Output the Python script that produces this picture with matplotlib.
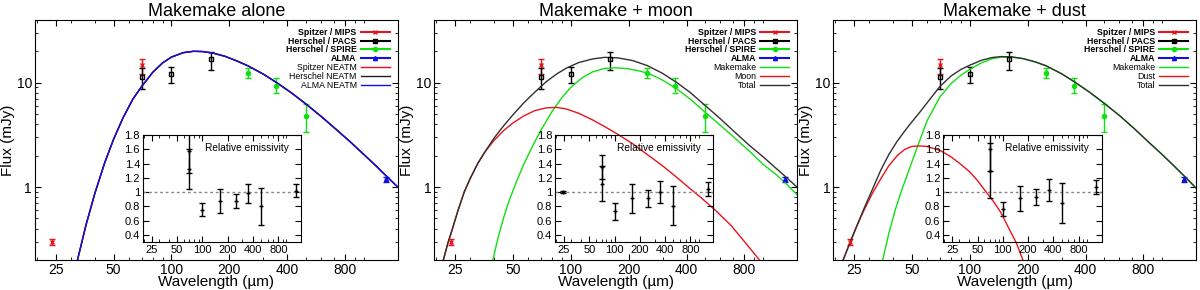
import matplotlib
matplotlib.use('Agg')
import matplotlib.pyplot as plt
from matplotlib.lines import Line2D
from matplotlib.ticker import FixedLocator, NullFormatter, FixedFormatter

plt.rcParams['font.family'] = ['Liberation Sans', 'DejaVu Sans']

# observations (wavelength in micron, flux in mJy)
mips_wl = [24, 70]
mips_f = [0.30, 14.8]
mips_lo = [0.28, 12.0]
mips_hi = [0.32, 16.9]

pacs_wl = [70, 100, 160]
pacs_f = [11.4, 12.2, 16.9]
pacs_lo = [8.8, 10.0, 13.3]
pacs_hi = [13.9, 14.2, 19.7]

spire_wl = [250, 350, 500]
spire_f = [12.5, 9.4, 4.75]
spire_lo = [11.1, 8.0, 3.4]
spire_hi = [13.9, 11.0, 6.3]

alma_wl = [1300]
alma_f = [1.19]
alma_lo = [1.12]
alma_hi = [1.26]

# model curves
neatm_wl = [32.5, 36, 40, 45, 50, 56, 63, 70, 80, 90, 100, 115, 130, 145, 165, 190, 220, 250, 300,
            350, 420, 500, 600, 720, 848, 1000, 1150, 1300, 1500]
neatm_f = [0.2, 0.435, 0.87, 1.71, 2.86, 4.6, 6.95, 9.2, 12.6, 15.5, 17.6, 19.4, 20.0, 19.9, 19.2,
           17.9, 16.1, 14.5, 12.1, 10.1, 8.0, 6.25, 4.75, 3.55, 2.72, 2.05, 1.61, 1.29, 1.0]

moon_wl = [21.8, 23, 24, 26, 28, 30, 33, 36, 40, 45, 50, 57, 65, 75, 85, 95, 110, 130, 150, 176,
           210, 250, 300, 350, 408, 480, 570, 680, 800, 957]
moon_f = [0.2, 0.29, 0.37, 0.6, 0.9, 1.2, 1.7, 2.2, 2.8, 3.5, 4.1, 4.8, 5.4, 5.75, 5.8, 5.6, 5.1,
          4.4, 3.8, 3.2, 2.6, 2.05, 1.6, 1.27, 1.0, 0.78, 0.59, 0.43, 0.3, 0.2]
mm_moon_wl = [39.4, 42, 45, 48, 52, 57, 63.6, 70, 80, 90, 100, 115, 130, 150, 170, 200, 230, 256,
              300, 357, 420, 513, 600, 720, 850, 1000, 1150, 1300, 1545]
mm_moon_f = [0.2, 0.33, 0.52, 0.75, 1.1, 1.65, 2.5, 3.5, 5.3, 7.2, 9.0, 11.2, 12.7, 13.7, 13.9,
             13.6, 12.9, 12.2, 10.6, 8.7, 6.9, 5.0, 3.9, 2.9, 2.2, 1.65, 1.35, 1.1, 0.8]
tot_moon_wl = [21.8, 23, 24, 26, 28, 30, 33, 36, 40, 45, 50, 57, 65, 75, 85, 95, 110, 130, 150,
               176, 210, 250, 300, 357, 420, 513, 600, 720, 850, 1000, 1150, 1300, 1545]
tot_moon_f = [0.2, 0.29, 0.37, 0.6, 0.9, 1.2, 1.7, 2.2, 2.95, 3.9, 4.9, 6.4, 8.1, 10.3, 12.2, 13.8,
              15.6, 16.9, 17.5, 17.3, 16.3, 14.6, 12.3, 10.0, 8.0, 5.8, 4.5, 3.3, 2.5, 1.95, 1.55,
              1.27, 0.95]

dust_wl = [22, 24, 26, 28, 31, 34.5, 38, 42, 46, 50, 55, 60, 70, 80, 90, 100, 110, 120, 135, 146,
           160, 175, 189]
dust_f = [0.2, 0.3, 0.43, 0.58, 0.85, 1.2, 1.6, 2.0, 2.3, 2.45, 2.48, 2.45, 2.25, 1.95, 1.65, 1.4,
          1.15, 0.93, 0.7, 0.56, 0.4, 0.29, 0.2]
mm_dust_wl = [35.3, 38, 41, 44, 48, 53.8, 60, 70, 80, 90, 100, 115, 130, 145, 165, 190, 220, 250,
              300, 350, 420, 500, 600, 720, 850, 1000, 1150, 1300, 1500]
mm_dust_f = [0.2, 0.36, 0.6, 0.9, 1.4, 2.5, 4.3, 7.3, 9.8, 11.8, 13.4, 15.5, 16.9, 17.6, 17.6, 17.0,
             15.8, 14.5, 12.2, 10.2, 8.1, 6.35, 4.85, 3.6, 2.7, 2.05, 1.6, 1.28, 0.98]
tot_dust_wl = [22, 24, 26, 28, 31, 34.5, 38, 42, 46, 50, 55, 60, 70, 80, 90, 100, 115, 130, 145,
               165, 190, 220, 250, 300, 350, 420, 500, 600, 720, 850, 1000, 1150, 1300, 1500]
tot_dust_f = [0.2, 0.3, 0.43, 0.6, 0.92, 1.45, 2.05, 2.75, 3.45, 4.2, 5.2, 6.4, 9.2, 11.6, 13.4,
              14.7, 16.4, 17.4, 17.8, 17.7, 17.0, 15.8, 14.5, 12.2, 10.2, 8.1, 6.35, 4.85, 3.6, 2.7,
              2.05, 1.6, 1.28, 0.98]

# relative emissivity (inset)
em_alone_wl = [70, 70, 100, 160, 250, 350, 500, 1300]
em_alone = [1.57, 1.32, 0.75, 0.87, 0.87, 0.98, 0.80, 1.02]
em_alone_err = [0.3, 0.28, 0.09, 0.17, 0.10, 0.14, 0.26, 0.09]
em_moon_wl = [24, 70, 70, 100, 160, 250, 350, 500, 1300]
em_moon = [1.0, 1.35, 1.12, 0.73, 0.91, 0.91, 1.0, 0.81, 1.04]
em_moon_err = [0.01, 0.17, 0.24, 0.12, 0.20, 0.12, 0.15, 0.27, 0.10]
em_dust_wl = [70, 70, 100, 160, 250, 350, 500, 1300]
em_dust = [1.6, 1.3, 0.76, 0.91, 0.93, 1.03, 0.85, 1.07]
em_dust_err = [0.3, 0.39, 0.10, 0.18, 0.11, 0.15, 0.28, 0.10]

xticks = [25, 50, 100, 200, 400, 800]
minor_x = [20, 30, 40, 60, 70, 80, 90, 300, 500, 600, 700, 900, 1000]
red, green, blue, dark = '#e8141c', '#10e010', '#1010e0', '#202020'

fig = plt.figure(figsize=(12, 2.9), dpi=100)
lefts = [0.029, 0.3617, 0.6942]
insets = [0.119, 0.4625, 0.786]
titles = ['Makemake alone', 'Makemake + moon', 'Makemake + dust']


def style_axis(ax, fs):
    ax.set_xscale('log')
    ax.xaxis.set_major_locator(FixedLocator(xticks))
    ax.xaxis.set_major_formatter(FixedFormatter([str(t) for t in xticks]))
    ax.xaxis.set_minor_locator(FixedLocator(minor_x))
    ax.xaxis.set_minor_formatter(NullFormatter())
    ax.tick_params(which='both', direction='in', top=True, right=True, labelsize=fs, pad=2)
    ax.tick_params(which='major', length=4)
    ax.tick_params(which='minor', length=2)
    ax.set_xlim(19.5, 1500)


def asym(f, lo, hi):
    return [[a - b for a, b in zip(f, lo)], [c - a for a, c in zip(f, hi)]]


def draw_data(ax):
    ax.errorbar(mips_wl, mips_f, yerr=asym(mips_f, mips_lo, mips_hi), fmt='x', color=red,
                ms=3, capsize=2, elinewidth=1)
    ax.errorbar(pacs_wl, pacs_f, yerr=asym(pacs_f, pacs_lo, pacs_hi), fmt='s', mfc='none',
                color='black', ms=3, capsize=2, elinewidth=1)
    ax.errorbar(spire_wl, spire_f, yerr=asym(spire_f, spire_lo, spire_hi), fmt='o',
                color=green, ms=3, capsize=2, elinewidth=1)
    ax.errorbar(alma_wl, alma_f, yerr=asym(alma_f, alma_lo, alma_hi), fmt='^', color=blue,
                ms=3, capsize=2, elinewidth=1)
    # legend samples in the gnuplot style: marker on a horizontal bar
    return [Line2D([], [], color=red, marker='x', ms=3, lw=1.5, label='Spitzer / MIPS'),
            Line2D([], [], color='black', marker='s', ms=3, lw=1.5, label='Herschel / PACS'),
            Line2D([], [], color=green, marker='o', ms=3, lw=1.5, label='Herschel / SPIRE'),
            Line2D([], [], color=blue, marker='^', ms=3, lw=1.5, label='ALMA')]


def draw_inset(pos, wl, em, err):
    ax = fig.add_axes([pos, 0.1655, 0.1320, 0.369])
    ax.patch.set_alpha(0)
    style_axis(ax, 8)
    ax.set_ylim(0.3, 1.8)
    ax.set_yticks([0.4, 0.6, 0.8, 1.0, 1.2, 1.4, 1.6, 1.8])
    ax.set_yticklabels(['0.4', '0.6', '0.8', '1', '1.2', '1.4', '1.6', '1.8'])
    ax.axhline(1.0, color='#888888', ls=(0, (2, 2)), lw=1)
    ax.errorbar(wl, em, yerr=err, fmt='+', color='black', ms=3, capsize=2, elinewidth=1)
    ax.text(0.92, 0.88, 'Relative emissivity', transform=ax.transAxes, ha='right', va='center',
            fontsize=7.3)
    return ax


curves = [
    [(neatm_wl, neatm_f, red, 'Spitzer NEATM'), (neatm_wl, neatm_f, dark, 'Herschel NEATM'),
     (neatm_wl, neatm_f, blue, 'ALMA NEATM')],
    [(mm_moon_wl, mm_moon_f, green, 'Makemake'), (moon_wl, moon_f, red, 'Moon'),
     (tot_moon_wl, tot_moon_f, '#303030', 'Total')],
    [(mm_dust_wl, mm_dust_f, green, 'Makemake'), (dust_wl, dust_f, red, 'Dust'),
     (tot_dust_wl, tot_dust_f, '#303030', 'Total')],
]
ems = [(em_alone_wl, em_alone, em_alone_err), (em_moon_wl, em_moon, em_moon_err),
       (em_dust_wl, em_dust, em_dust_err)]

for i in range(3):
    ax = fig.add_axes([lefts[i], 0.1034, 0.3025, 0.828])
    style_axis(ax, 10)
    ax.set_yscale('log')
    ax.set_ylim(0.2, 40)
    ax.yaxis.set_major_locator(FixedLocator([1, 10]))
    ax.yaxis.set_major_formatter(FixedFormatter(['1', '10']))
    ax.yaxis.set_minor_locator(FixedLocator([0.2, 0.3, 0.4, 0.5, 0.6, 0.7, 0.8, 0.9,
                                             2, 3, 4, 5, 6, 7, 8, 9, 20, 30, 40]))
    ax.yaxis.set_minor_formatter(NullFormatter())
    ax.set_title(titles[i], fontsize=13, pad=3)
    ax.set_xlabel('Wavelength (µm)', fontsize=11, labelpad=-1)
    ax.set_ylabel('Flux (mJy)', fontsize=11, labelpad=1)
    handles = draw_data(ax)
    for wl, f, c, lab in curves[i]:
        handles.append(ax.plot(wl, f, color=c, lw=1, label=lab)[0])
    leg = ax.legend(handles=handles, loc='upper right', fontsize=6.3, markerfirst=False,
                    frameon=False, handlelength=3.3, labelspacing=-0.02, borderaxespad=0.5,
                    handletextpad=0.5)
    for t in leg.get_texts()[:4]:
        t.set_fontweight('bold')
    draw_inset(insets[i], *ems[i])

fig.savefig('out.png', dpi=100)
